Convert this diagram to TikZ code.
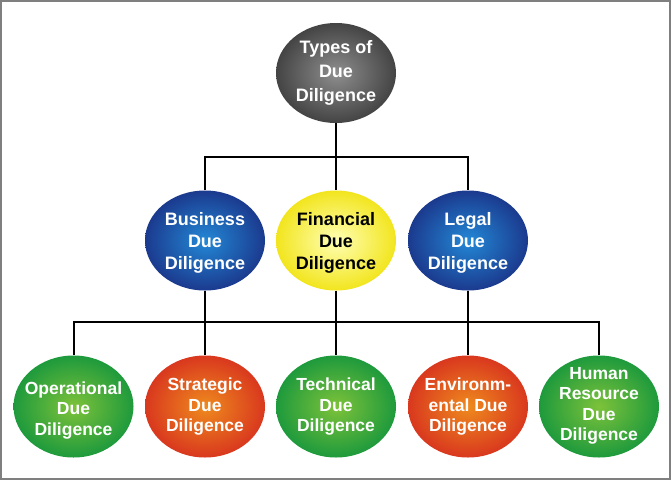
\documentclass[tikz,border=0pt]{standalone}
\usepackage{fontspec}
\setmainfont{Liberation Sans}
\usepackage{tikz}
\usetikzlibrary{shapes.geometric,positioning,calc}
\definecolor{DDGrayIn}{HTML}{8E8E8E}
\definecolor{DDGrayOut}{HTML}{444444}
\definecolor{DDBlueIn}{HTML}{2388D6}
\definecolor{DDBlueOut}{HTML}{1B3A8E}
\definecolor{DDYellowIn}{HTML}{FFFFB4}
\definecolor{DDYellowOut}{HTML}{F2E51E}
\definecolor{DDGreenIn}{HTML}{7DC23A}
\definecolor{DDGreenOut}{HTML}{1E9A3C}
\definecolor{DDRedIn}{HTML}{EE8A1E}
\definecolor{DDRedOut}{HTML}{D9381E}
\definecolor{DDFrame}{HTML}{7F7F7F}
% Text block whose first baseline sits #1 above the node centre
\newcommand{\ddlabel}[2][0pt]{\smash{\makebox[0pt]{\raisebox{#1}{\begin{tabular}[t]{@{}c@{}}#2\end{tabular}}}}}
\tikzset{
    % Base ellipse style
    basenode/.style={
        ellipse,
        draw=none,
        inner sep=0pt,
        minimum width=120pt,
        minimum height=100pt,
        text=white,
        font=\fontsize{18}{22}\selectfont\bfseries
    },
    % Root of the tree
    rootnode/.style={
        basenode,
        inner color=DDGrayIn,
        outer color=DDGrayOut,
        font=\fontsize{18}{24}\selectfont\bfseries
    },
    % Middle layer
    bluenode/.style={
        basenode,
        inner color=DDBlueIn,
        outer color=DDBlueOut
    },
    yellownode/.style={
        basenode,
        inner color=DDYellowIn,
        outer color=DDYellowOut,
        text=black
    },
    % Bottom layer
    leafnode/.style={
        basenode,
        minimum height=102pt,
        font=\fontsize{17.5}{20.5}\selectfont\bfseries
    },
    greennode/.style={
        leafnode,
        inner color=DDGreenIn,
        outer color=DDGreenOut
    },
    rednode/.style={
        leafnode,
        inner color=DDRedIn,
        outer color=DDRedOut
    },
    % Connector lines
    treeline/.style={
        draw=black,
        line width=2pt
    },
    % Outer frame
    framebox/.style={
        draw=DDFrame,
        line width=1.5pt
    }
}
\begin{document}
\begin{tikzpicture}[x=1pt, y=-1pt]
    \useasboundingbox (0,0) rectangle (672,480);
    \draw[framebox] (1,1) rectangle (670,479);

    \node[rootnode] (root) at (336,73) {\ddlabel[20pt]{Types of\\Due\\Diligence}};

    \node[bluenode] (busi) at (205,240.5) {\ddlabel[15.5pt]{Business\\Due\\Diligence}};
    \node[yellownode] (fin) at (336,240.5) {\ddlabel[15.5pt]{Financial\\Due\\Diligence}};
    \node[bluenode] (legal) at (468,240.5) {\ddlabel[15.5pt]{Legal\\Due\\Diligence}};

    \node[greennode] (oper) at (73.5,406.5) {\ddlabel[12.5pt]{Operational\\Due\\Diligence}};
    \node[rednode] (strat) at (205,406.5) {\ddlabel[16pt]{Strategic\\Due\\Diligence}};
    \node[greennode] (tech) at (336,406.5) {\ddlabel[16pt]{Technical\\Due\\Diligence}};
    \node[rednode] (envir) at (468,406.5) {\ddlabel[16pt]{Environm-\\ental Due\\Diligence}};
    \node[greennode] (human) at (599,406.5) {\ddlabel[27.5pt]{Human\\Resource\\Due\\Diligence}};

    \coordinate (hubtop) at (336,157);
    \coordinate (hubbot) at (336,322);

    \draw[treeline] (root.south) -- (fin.north);
    \draw[treeline] (busi.north) |- (hubtop) -| (legal.north);
    \draw[treeline] (oper.north) |- (hubbot) -| (human.north);
    \draw[treeline] (busi.south) -- (strat.north);
    \draw[treeline] (fin.south) -- (tech.north);
    \draw[treeline] (legal.south) -- (envir.north);
\end{tikzpicture}
\end{document}
